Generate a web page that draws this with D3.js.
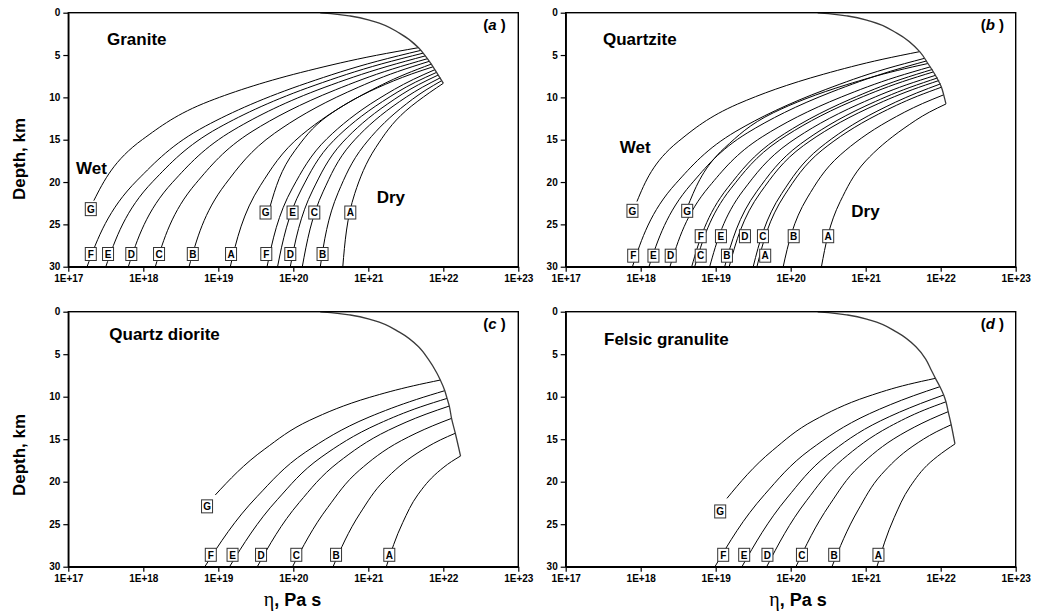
<!DOCTYPE html>
<html><head><meta charset="utf-8">
<script src="https://cdn.jsdelivr.net/npm/d3@7"></script>
<style>body{margin:0;background:#fff}svg{display:block}</style>
</head><body>
<svg id="chart" width="1037" height="616"></svg>
<script>
// ---------- tick data ----------
const depthTicks = [0, 5, 10, 15, 20, 25, 30];
const etaTicks = [1e17, 1e18, 1e19, 1e20, 1e21, 1e22, 1e23];
const etaTickLabels = ["1E+17", "1E+18", "1E+19", "1E+20", "1E+21", "1E+22", "1E+23"];

// ---------- (a) Granite : [depth km, log10 viscosity] ----------
const graniteBrittle = [[0.02,20.36],[0.12,20.5],[0.39,20.76],[1.02,21.07],[2.44,21.42],[4.13,21.67],[5.1,21.76],[6.07,21.84],[7.05,21.91],[8.34,22.0]];
const graniteWet = [
  ["G", [[4.13,21.67],[5.03,21.11],[6.84,20.20],[10.45,18.88],[14.97,17.99],[22.2,17.34]]],
  ["F", [[4.45,21.70],[5.73,21.12],[8.28,20.19],[13.39,18.83],[19.78,17.92],[30,17.25]]],
  ["E", [[4.78,21.73],[6.04,21.18],[8.56,20.29],[13.61,19.00],[19.91,18.13],[30,17.5]]],
  ["D", [[5.10,21.76],[6.35,21.25],[8.84,20.41],[13.82,19.21],[20.04,18.39],[30,17.8]]],
  ["C", [[5.43,21.79],[6.66,21.32],[9.12,20.56],[14.03,19.45],[20.17,18.70],[30,18.16]]],
  ["B", [[5.75,21.81],[6.96,21.39],[9.39,20.72],[14.24,19.75],[20.30,19.09],[30,18.61]]],
  ["A", [[6.07,21.84],[7.27,21.49],[9.66,20.93],[14.45,20.11],[20.43,19.56],[30,19.16]]]
];
const graniteDry = [
  ["G", [[6.40,21.86],[7.23,21.58],[8.88,21.12],[12.18,20.46],[16.3,20.02],[22.9,19.69]]],
  ["F", [[6.72,21.89],[7.88,21.60],[10.21,21.13],[14.87,20.45],[20.69,19.99],[30,19.65]]],
  ["E", [[7.05,21.91],[8.20,21.63],[10.49,21.19],[15.08,20.54],[20.82,20.11],[30,19.79]]],
  ["D", [[7.37,21.93],[8.50,21.67],[10.76,21.26],[15.29,20.66],[20.95,20.26],[30,19.96]]],
  ["C", [[7.69,21.96],[8.81,21.72],[11.04,21.33],[15.5,20.77],[21.08,20.40],[30,20.12]]],
  ["B", [[8.02,21.98],[9.12,21.77],[11.32,21.43],[15.71,20.94],[21.21,20.60],[30,20.36]]],
  ["A", [[8.34,22.0],[9.42,21.82],[11.59,21.50],[15.92,21.10],[21.34,20.82],[30,20.66]]]
];
const graniteLabels = [["G",17.30,23.2],["F",17.30,28.5],["E",17.53,28.5],["D",17.84,28.5],["C",18.21,28.5],["B",18.66,28.5],["A",19.17,28.5],
  ["G",19.63,23.6],["E",19.99,23.6],["C",20.28,23.6],["A",20.76,23.6],["F",19.64,28.5],["D",19.96,28.5],["B",20.39,28.5]];

// ---------- (b) Quartzite ----------
const quartziteBrittle = [[0.02,20.36],[0.12,20.5],[0.39,20.76],[1.02,21.07],[2.44,21.42],[4.6,21.72],[6.0,21.83],[7.4,21.93],[8.8,22.01],[9.7,22.04],[10.78,22.07]];
const quartziteWet = [
  ["G", [[4.6,21.72],[5.49,21.23],[7.26,20.44],[10.80,19.29],[15.22,18.50],[22.3,17.95]]],
  ["F", [[5.4,21.78],[6.63,21.27],[9.09,20.46],[14.01,19.27],[20.16,18.47],[30,17.89]]],
  ["E", [[5.7,21.81],[6.92,21.33],[9.35,20.55],[14.21,19.42],[20.28,18.67],[30,18.11]]],
  ["D", [[6.4,21.86],[7.58,21.41],[9.94,20.68],[14.66,19.62],[20.56,18.91],[30,18.39]]],
  ["C", [[7.0,21.9],[8.15,21.49],[10.45,20.82],[15.05,19.85],[20.8,19.20],[30,18.72]]],
  ["B", [[7.7,21.96],[8.82,21.59],[11.05,20.99],[15.51,20.13],[21.08,19.55],[30,19.12]]],
  ["A", [[8.8,22.01],[9.86,21.69],[11.98,21.17],[16.22,20.42],[21.52,19.92],[30,19.55]]]
];
const quartziteDry = [
  ["G", [[6.0,21.83],[6.83,21.42],[8.49,20.75],[11.81,19.77],[15.96,19.12],[22.6,18.64]]],
  ["F", [[6.7,21.89],[7.87,21.47],[10.2,20.80],[14.86,19.82],[20.68,19.16],[30,18.68]]],
  ["E", [[7.4,21.93],[8.53,21.54],[10.79,20.91],[15.31,19.99],[20.96,19.37],[30,18.92]]],
  ["D", [[8.0,21.98],[9.1,21.62],[11.3,21.03],[15.7,20.17],[21.2,19.60],[30,19.18]]],
  ["C", [[8.4,22.0],[9.48,21.68],[11.64,21.15],[15.96,20.39],[21.36,19.88],[30,19.5]]],
  ["B", [[9.7,22.04],[10.72,21.76],[12.75,21.31],[16.81,20.66],[21.88,20.22],[30,19.9]]],
  ["A", [[10.78,22.07],[11.74,21.85],[13.66,21.51],[17.51,21.0],[22.31,20.66],[30,20.41]]]
];
const quartziteLabels = [["G",17.89,23.4],["G",18.62,23.4],["F",18.80,26.4],["E",19.07,26.4],["D",19.39,26.4],["C",19.63,26.4],["B",20.04,26.4],["A",20.50,26.4],
  ["F",17.90,28.7],["E",18.17,28.7],["D",18.40,28.7],["C",18.80,28.7],["B",19.15,28.7],["A",19.66,28.7]];

// ---------- (c) Quartz diorite ----------
const dioriteBrittle = [[0.02,20.36],[0.12,20.5],[0.39,20.76],[1.02,21.07],[2.44,21.42],[4.13,21.67],[5.59,21.8],[7.16,21.91],[8.04,21.96],[9.29,22.02],[10.2,22.05],[11.1,22.08],[12.55,22.11],[14.3,22.16],[16.98,22.23]];
const dioriteCurves = [
  ["G", [[8.04,21.96],[8.72,21.60],[10.07,21.02],[12.77,20.22],[16.15,19.62],[21.56,18.96]]],
  ["F", [[9.29,22.02],[10.33,21.64],[12.4,21.01],[16.54,20.16],[21.72,19.52],[30,18.82]]],
  ["E", [[10.2,22.05],[11.19,21.70],[13.17,21.14],[17.13,20.37],[22.08,19.79],[30,19.15]]],
  ["D", [[11.1,22.08],[12.05,21.77],[13.94,21.27],[17.72,20.60],[22.44,20.08],[30,19.52]]],
  ["C", [[12.55,22.11],[13.42,21.86],[15.17,21.44],[18.66,20.88],[23.02,20.46],[30,19.99]]],
  ["B", [[14.3,22.16],[15.09,21.96],[16.66,21.65],[19.8,21.22],[23.72,20.89],[30,20.53]]],
  ["A", [[16.98,22.23],[17.63,22.11],[18.93,21.92],[21.54,21.66],[24.79,21.46],[30,21.24]]]
];
const dioriteLabels = [["G",18.85,22.9],["F",18.90,28.6],["E",19.19,28.6],["D",19.57,28.6],["C",20.04,28.6],["B",20.57,28.6],["A",21.28,28.6]];

// ---------- (d) Felsic granulite ----------
const granuliteBrittle = [[0.02,20.36],[0.12,20.5],[0.39,20.76],[1.02,21.07],[2.44,21.42],[4.13,21.67],[5.59,21.8],[6.8,21.87],[7.84,21.93],[8.82,21.99],[9.8,22.04],[10.6,22.07],[11.76,22.1],[13.3,22.14],[15.56,22.19]];
const granuliteCurves = [
  ["G", [[7.84,21.93],[8.55,21.57],[9.96,21.03],[12.78,20.31],[16.31,19.76],[21.96,19.15]]],
  ["F", [[8.82,21.99],[9.88,21.64],[12.0,21.05],[16.23,20.26],[21.53,19.65],[30,18.99]]],
  ["E", [[9.8,22.04],[10.81,21.73],[12.83,21.20],[16.87,20.49],[21.92,19.95],[30,19.35]]],
  ["D", [[10.6,22.07],[11.57,21.78],[13.51,21.32],[17.39,20.69],[22.24,20.21],[30,19.68]]],
  ["C", [[11.76,22.1],[12.67,21.86],[14.5,21.46],[18.14,20.92],[22.7,20.52],[30,20.07]]],
  ["B", [[13.3,22.14],[14.14,21.94],[15.81,21.63],[19.15,21.21],[23.32,20.90],[30,20.55]]],
  ["A", [[15.56,22.19],[16.28,22.07],[17.73,21.86],[20.61,21.59],[24.22,21.38],[30,21.15]]]
];
const granuliteLabels = [["G",19.06,23.5],["F",19.10,28.6],["E",19.38,28.6],["D",19.69,28.6],["C",20.15,28.6],["B",20.58,28.6],["A",21.17,28.6]];

// ---------- layout ----------
const panels = [
  {key:"a", left:68.3, top:12.7, bottom:266.7, title:"Granite", titleX:38.7, titleY:32.3,
   brittle:graniteBrittle, curves:graniteWet.concat(graniteDry), labels:graniteLabels,
   wet:[7.7,161.3], dry:[308.4,190.6], yTitle:159, xTitle:null},
  {key:"b", left:565.7, top:12.7, bottom:266.7, title:"Quartzite", titleX:37.3, titleY:32.3,
   brittle:quartziteBrittle, curves:quartziteWet.concat(quartziteDry), labels:quartziteLabels,
   wet:[54,140], dry:[285.6,204], yTitle:null, xTitle:null},
  {key:"c", left:68.3, top:311.7, bottom:566.7, title:"Quartz diorite", titleX:41, titleY:28.3,
   brittle:dioriteBrittle, curves:dioriteCurves, labels:dioriteLabels,
   wet:null, dry:null, yTitle:455, xTitle:292.5},
  {key:"d", left:565.7, top:311.7, bottom:566.7, title:"Felsic granulite", titleX:38.3, titleY:33.3,
   brittle:granuliteBrittle, curves:granuliteCurves, labels:granuliteLabels,
   wet:null, dry:null, yTitle:null, xTitle:798}
];

const svg = d3.select("#chart");
const FONT = "Liberation Sans, Arial, Helvetica, sans-serif";

panels.forEach(p => {
  const W = 450;
  const x = d3.scaleLog().domain([1e17, 1e23]).range([p.left, p.left + W]);
  const y = d3.scaleLinear().domain([0, 30]).range([p.top, p.bottom]);
  const g = svg.append("g");

  g.append("clipPath").attr("id", "clip-" + p.key)
    .append("rect").attr("x", p.left).attr("y", p.top).attr("width", W).attr("height", p.bottom - p.top);

  const line = d3.line()
    .x(d => x(Math.pow(10, d[1])))
    .y(d => y(d[0]))
    .curve(d3.curveMonotoneY);

  const plot = g.append("g").attr("clip-path", "url(#clip-" + p.key + ")");
  plot.selectAll("path.duct").data(p.curves).join("path")
    .attr("class", "duct")
    .attr("d", d => line(d[1]))
    .attr("fill", "none").attr("stroke", "#000").attr("stroke-width", 1);
  plot.append("path").attr("d", line(p.brittle))
    .attr("fill", "none").attr("stroke", "#3a3a3a").attr("stroke-width", 1.3);

  // frame
  g.append("rect").attr("x", p.left).attr("y", p.top).attr("width", W).attr("height", p.bottom - p.top)
    .attr("fill", "none").attr("stroke", "#000").attr("stroke-width", 1.4);

  // axes
  const ya = g.append("g").attr("transform", `translate(${p.left},0)`)
    .call(d3.axisLeft(y).tickValues(depthTicks).tickSize(5).tickSizeOuter(0).tickPadding(3));
  const xa = g.append("g").attr("transform", `translate(0,${p.bottom})`)
    .call(d3.axisBottom(x).tickValues(etaTicks).tickFormat((d, i) => etaTickLabels[i])
      .tickSize(5).tickSizeOuter(0).tickPadding(3.4));
  [ya, xa].forEach(a => {
    a.select(".domain").attr("stroke", "#000").attr("stroke-width", 1.4);
    a.selectAll(".tick line").attr("stroke", "#000").attr("stroke-width", 1.2);
    a.selectAll(".tick text").attr("fill", "#000").attr("font-family", FONT)
      .attr("font-weight", "bold").attr("font-size", 10);
  });

  // curve labels
  const lab = g.selectAll("g.lab").data(p.labels).join("g").attr("class", "lab")
    .attr("transform", d => `translate(${x(Math.pow(10, d[1]))},${y(d[2])})`);
  lab.append("rect").attr("x", -5.5).attr("y", -6.5).attr("width", 11).attr("height", 13)
    .attr("fill", "#fff").attr("stroke", "#333").attr("stroke-width", 1);
  lab.append("text").text(d => d[0]).attr("text-anchor", "middle").attr("dy", "0.37em")
    .attr("font-family", FONT).attr("font-weight", "bold").attr("font-size", 10).attr("fill", "#000");

  // texts
  g.append("text").attr("x", p.left + p.titleX).attr("y", p.top + p.titleY).text(p.title)
    .attr("font-family", FONT).attr("font-weight", "bold").attr("font-size", 17);
  const pl = g.append("text").attr("x", p.left + 415).attr("y", p.top + 17)
    .attr("font-family", FONT).attr("font-weight", "bold").attr("font-size", 15);
  pl.append("tspan").text("(");
  pl.append("tspan").text(p.key).attr("font-style", "italic");
  pl.append("tspan").text(" )");
  if (p.wet) g.append("text").attr("x", p.left + p.wet[0]).attr("y", p.top + p.wet[1]).text("Wet")
    .attr("font-family", FONT).attr("font-weight", "bold").attr("font-size", 17);
  if (p.dry) g.append("text").attr("x", p.left + p.dry[0]).attr("y", p.top + p.dry[1]).text("Dry")
    .attr("font-family", FONT).attr("font-weight", "bold").attr("font-size", 17);
  if (p.yTitle) g.append("text").attr("transform", `translate(24.5,${p.yTitle}) rotate(-90)`)
    .attr("text-anchor", "middle").text("Depth, km")
    .attr("font-family", FONT).attr("font-weight", "bold").attr("font-size", 17);
  if (p.xTitle) {
    const t = g.append("text").attr("x", p.xTitle).attr("y", 606).attr("text-anchor", "middle")
      .attr("font-size", 18);
    t.append("tspan").text("η").attr("font-family", "Liberation Serif, DejaVu Serif, serif").attr("font-size", 20);
    t.append("tspan").text(", Pa s").attr("font-family", FONT).attr("font-weight", "bold");
  }
});
</script>
</body></html>
